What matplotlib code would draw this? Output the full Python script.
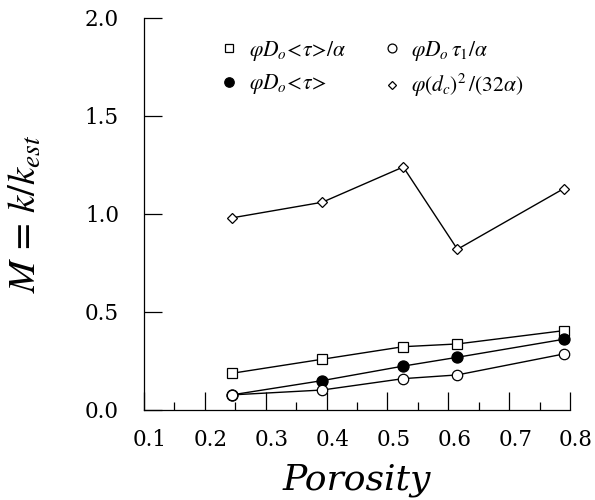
import matplotlib
matplotlib.use("Agg")
import matplotlib.pyplot as plt
import matplotlib.transforms as mtransforms
from matplotlib.ticker import MultipleLocator
from matplotlib.lines import Line2D

plt.rcParams['font.family'] = ['DejaVu Serif']
plt.rcParams['mathtext.fontset'] = 'stix'

# Data
porosity = [0.244, 0.393, 0.526, 0.615, 0.790]
m_tau_alpha = [0.187, 0.259, 0.323, 0.337, 0.405]   # phi D0 <tau> / alpha
m_tau = [0.077, 0.150, 0.224, 0.269, 0.361]         # phi D0 <tau>
m_tau1_alpha = [0.077, 0.102, 0.160, 0.179, 0.286]  # phi D0 tau1 / alpha
m_dc = [0.98, 1.06, 1.24, 0.82, 1.13]               # phi dc^2 / (32 alpha)

labels = [r'$\varphi D_o\!<\!\tau\!>\!/\alpha$',
          r'$\varphi D_o\!<\!\tau\!>$',
          r'$\varphi D_o\,\tau_1/\alpha$',
          r'$\varphi (d_c)^2\,/(32\alpha)$']

fig = plt.figure(figsize=(5.95, 5.0), dpi=100)
ax = fig.add_axes([0.242, 0.18, 0.716, 0.784])

kw = dict(color='black', lw=1.0, markeredgewidth=0.9)
styles = [dict(marker='s', ms=7.5, mfc='white'),
          dict(marker='o', ms=8, mfc='black'),
          dict(marker='o', ms=7.5, mfc='white'),
          dict(marker='D', ms=5, mfc='white')]
series = [m_tau_alpha, m_tau, m_tau1_alpha, m_dc]
for ys, st in zip(series, styles):
    ax.plot(porosity, ys, **st, **kw)

ax.set_xlim(0.1, 0.8)
ax.set_ylim(0.0, 2.0)
ax.xaxis.set_major_locator(MultipleLocator(0.1))
ax.xaxis.set_minor_locator(MultipleLocator(0.05))
ax.yaxis.set_major_locator(MultipleLocator(0.5))
ax.set_xticklabels([f"{v:.1f}" for v in ax.get_xticks()])
ax.set_yticklabels([f"{v:.1f}" for v in ax.get_yticks()])

ax.spines['top'].set_visible(False)
ax.spines['right'].set_visible(False)
for s in ('left', 'bottom'):
    ax.spines[s].set_linewidth(0.9)
ax.tick_params(which='major', direction='in', length=13, width=0.9, labelsize=15.5)
ax.tick_params(which='minor', direction='in', length=6, width=0.9)
ax.tick_params(axis='x', which='major', pad=14)
ax.tick_params(axis='y', which='major', pad=18)

# the x tick labels sit a little right of their ticks in the original
shift = mtransforms.ScaledTranslation(6 / 100, 0, fig.dpi_scale_trans)
for lab in ax.get_xticklabels():
    lab.set_transform(lab.get_transform() + shift)

ax.set_xlabel('Porosity', fontsize=26, fontstyle='italic', labelpad=8)
ax.set_ylabel(r'$M\,=\,k/k_{est}$', fontsize=28)
ax.yaxis.set_label_coords(-0.235, 0.5)

handles = [Line2D([], [], linestyle='none', color='black', markeredgewidth=0.9,
                  **{**st, 'ms': st['ms'] * 0.85}) for st in styles]
ax.legend(handles, labels, loc='upper left', bbox_to_anchor=(0.14, 0.997), ncol=2,
          frameon=False, fontsize=15.5, handlelength=0.6, columnspacing=1.8,
          handletextpad=0.6, labelspacing=0.45, numpoints=1)

fig.savefig("out.png", dpi=100)
